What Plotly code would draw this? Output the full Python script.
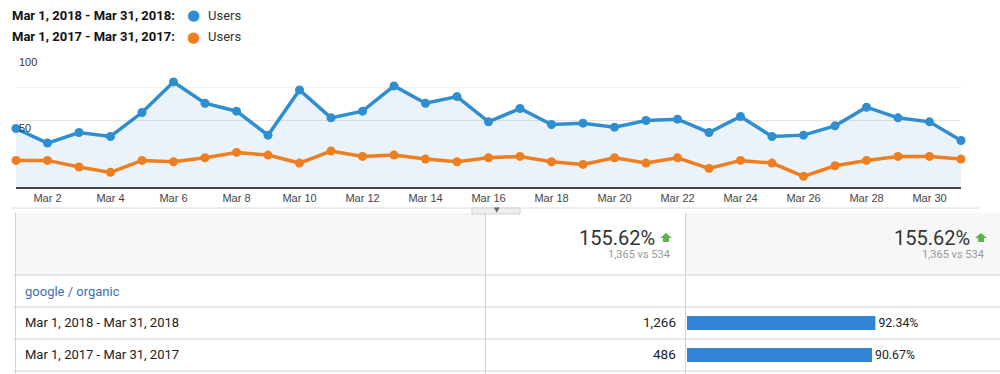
import plotly.graph_objects as go

# ---------------- data ----------------
days = list(range(1, 32))
tick_days = list(range(2, 31, 2))
tick_labels = [f"Mar {d}" for d in tick_days]
users_2018 = [44, 33, 41, 38, 56, 79, 63, 57, 39, 73, 52, 57, 76, 63, 68, 49,
              59, 47, 48, 45, 50, 51, 41, 53, 38, 39, 46, 60, 52, 49, 35]
users_2017 = [20, 20, 15, 11, 20, 19, 22, 26, 24, 18, 27, 23, 24, 21, 19, 22,
              23, 19, 17, 22, 18, 22, 14, 20, 18, 8, 16, 20, 23, 23, 21]
period_labels = ["Mar 1, 2018 - Mar 31, 2018", "Mar 1, 2017 - Mar 31, 2017"]
series_name = "Users"
segment_label = "google / organic"
row_values = [1266, 486]
row_pcts = [92.34, 90.67]
total_now, total_prev = 1365, 534
change_pct = 155.62

BLUE = "#2f8ecf"
ORANGE = "#ee7e1f"
GREEN = "#5cb450"
W, H = 1000, 374


def px(x):
    return x / W


def py(y):
    return 1 - y / H


fig = go.Figure()
fig.add_trace(go.Scatter(
    x=days, y=users_2018, mode="lines+markers", fill="tozeroy",
    fillcolor="rgba(47,142,207,0.10)",
    line=dict(color=BLUE, width=3.5), marker=dict(color=BLUE, size=9),
    cliponaxis=False, hoverinfo="x+y", name=period_labels[0]))
fig.add_trace(go.Scatter(
    x=days, y=users_2017, mode="lines+markers",
    line=dict(color=ORANGE, width=3.5), marker=dict(color=ORANGE, size=9),
    cliponaxis=False, hoverinfo="x+y", name=period_labels[1]))

# bars in the table
fig.add_trace(go.Bar(
    x=row_pcts, y=period_labels, orientation="h", xaxis="x2", yaxis="y2",
    marker=dict(color="#3084d3", line=dict(width=0)), width=0.44,
    text=[f"{v:.2f}%" for v in row_pcts], textposition="outside",
    textfont=dict(family="Roboto", size=14, color="#222"), cliponaxis=False))

fig.update_layout(
    width=W, height=H, autosize=False,
    margin=dict(l=0, r=0, t=0, b=0),
    paper_bgcolor="white", plot_bgcolor="rgba(0,0,0,0)",
    showlegend=False,
    xaxis=dict(domain=[px(16), px(961)], range=[1, 31], tickvals=tick_days,
               ticktext=tick_labels, showgrid=False, zeroline=False,
               showline=True, linecolor="#444", linewidth=2, ticks="",
               tickfont=dict(family="Liberation Sans", size=11, color="#444"),
               fixedrange=True),
    yaxis=dict(domain=[py(187), py(54)], range=[0, 100], tickvals=[50, 100],
               showgrid=True, gridcolor="#e4e4e4", gridwidth=1,
               zeroline=False, showline=False, ticks="",
               ticklabelposition="inside bottom",
               tickfont=dict(family="Liberation Sans", size=11, color="#333"),
               minor=dict(tickvals=[75], showgrid=True, gridcolor="#f2f2f2"),
               fixedrange=True),
    xaxis2=dict(domain=[px(687), px(891)], range=[0, 100], visible=False,
                anchor="y2", fixedrange=True),
    yaxis2=dict(domain=[py(371), py(307)], range=[1.5, -0.5], visible=False,
                anchor="x2", fixedrange=True, type="category"),
)

shapes = []
line_c = "#e2e2e2"
# chart bottom border
shapes.append(dict(type="line", xref="paper", yref="paper", x0=px(11), x1=px(980),
                   y0=py(208), y1=py(208), line=dict(color="#dcdcdc", width=1)))
# header backgrounds
shapes.append(dict(type="rect", xref="paper", yref="paper", x0=px(15.5), x1=px(485.5),
                   y0=py(275), y1=py(213), fillcolor="#f7f7f7", line=dict(width=0), layer="below"))
shapes.append(dict(type="rect", xref="paper", yref="paper", x0=px(685.5), x1=px(1000),
                   y0=py(275), y1=py(213), fillcolor="#f7f7f7", line=dict(width=0), layer="below"))
# horizontal row lines
for yy in [275, 307, 339, 371]:
    shapes.append(dict(type="line", xref="paper", yref="paper", x0=px(13), x1=px(1000),
                       y0=py(yy), y1=py(yy), line=dict(color=line_c, width=1.5)))
# vertical column lines
for xx in [15.5, 485.5, 685.5]:
    shapes.append(dict(type="line", xref="paper", yref="paper", x0=px(xx), x1=px(xx),
                       y0=py(213), y1=py(374), line=dict(color="#d4d4d4", width=1)))
# small tab under chart
shapes.append(dict(type="rect", xref="paper", yref="paper", x0=px(472), x1=px(520),
                   y0=py(214), y1=py(208), fillcolor="#eeeeee", line=dict(color="#d0d0d0", width=1)))


def up_arrow(cx, top):
    pts = [(cx, top), (cx + 6, top + 5), (cx + 3, top + 5), (cx + 3, top + 9),
           (cx - 3, top + 9), (cx - 3, top + 5), (cx - 6, top + 5)]
    path = "M " + " L ".join(f"{px(a):.5f},{py(b):.5f}" for a, b in pts) + " Z"
    return dict(type="path", xref="paper", yref="paper", path=path,
                fillcolor=GREEN, line=dict(width=0))


ann = []


def text(x, y, s, size=13, color="#222", xanchor="left", family="Roboto", bold=False):
    if bold:
        s = f"<b>{s}</b>"
    ann.append(dict(x=px(x), y=py(y), xref="paper", yref="paper", text=s, showarrow=False,
                    xanchor=xanchor, yanchor="middle",
                    font=dict(family=family, size=size, color=color)))


# legend
text(10, 15, period_labels[0] + ":", bold=True, size=13, color="#111")
text(10, 37, period_labels[1] + ":", bold=True, size=13, color="#111")
text(193, 15, "●", size=15, color=BLUE, xanchor="center", family="DejaVu Sans")
text(193, 37, "●", size=15, color=ORANGE, xanchor="center", family="DejaVu Sans")
text(206, 15, series_name, size=13, color="#333")
text(206, 37, series_name, size=13, color="#333")

# triangle on tab
text(497, 210, "▼", size=7, color="#666", xanchor="center", family="DejaVu Sans")

# header totals
for right, arrow_x, sub_right in [(657, 666, 672), (972, 981, 986)]:
    text(right, 238, f"{change_pct:.2f}%", size=20, color="#333", xanchor="right")
    shapes.append(up_arrow(arrow_x, 233))
    text(sub_right, 255, f"{total_now:,} vs {total_prev:,}", size=11, color="#999", xanchor="right")

# rows
text(23, 291, segment_label, size=13, color="#3e6fb4")
text(23, 322, period_labels[0], size=13, color="#222")
text(23, 354, period_labels[1], size=13, color="#222")
text(678, 322, f"{row_values[0]:,}", size=13.5, color="#222", xanchor="right")
text(678, 354, f"{row_values[1]:,}", size=13.5, color="#222", xanchor="right")

fig.update_layout(shapes=shapes, annotations=ann)

fig.write_html("out.html", config={"displayModeBar": False},
               post_script="document.body.style.margin='0';")
